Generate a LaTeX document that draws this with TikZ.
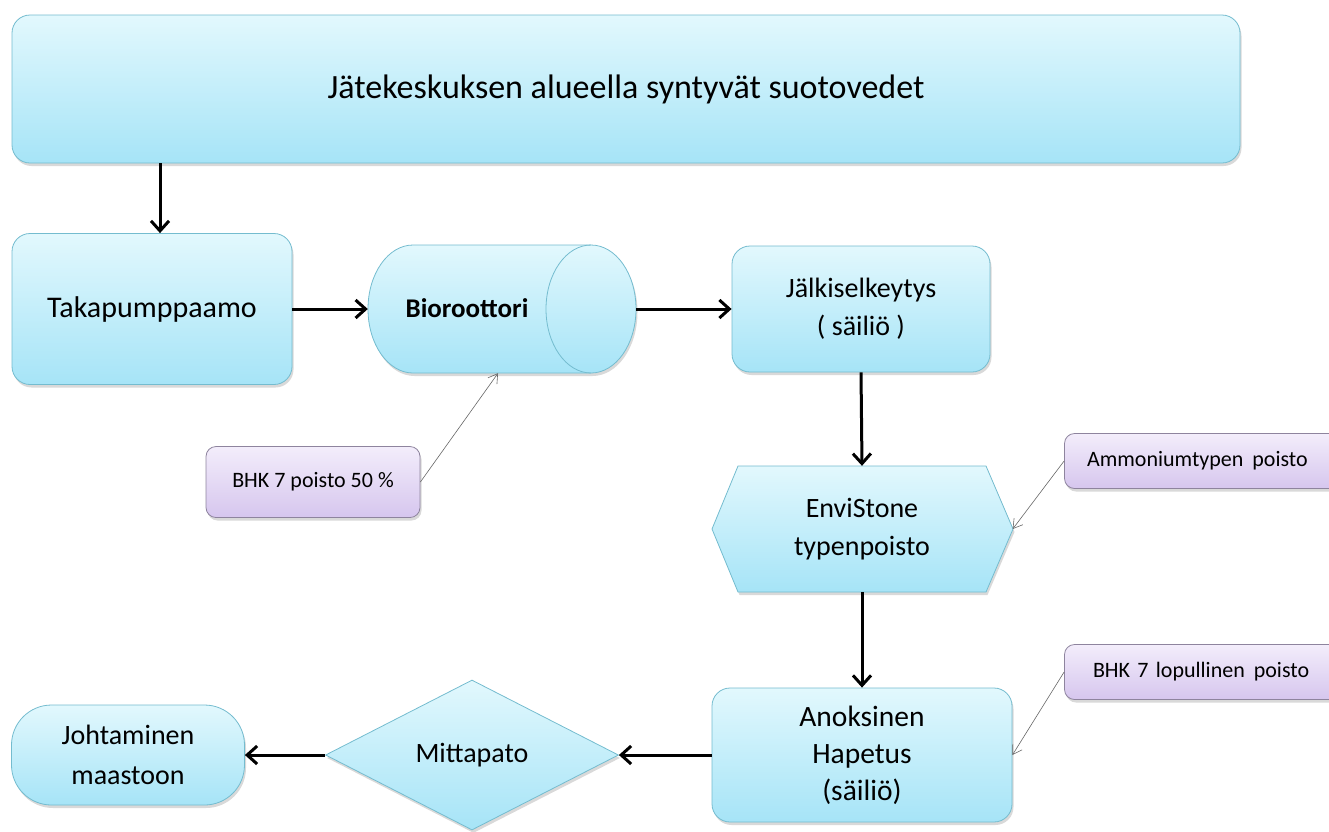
\documentclass[tikz,border=0pt]{standalone}
\usepackage{fontspec}
\setmainfont{Carlito}
\usetikzlibrary{arrows.meta,shapes.geometric,shadows}
\definecolor{bt}{HTML}{E2F8FD}
\definecolor{bb}{HTML}{A6E4F7}
\definecolor{bd}{HTML}{74BCCF}
\definecolor{pt}{HTML}{F3EDFB}
\definecolor{pb}{HTML}{D6C6EE}
\definecolor{pd}{HTML}{8E849E}
\begin{document}
\begin{tikzpicture}[x=1pt,y=-1pt,
  shad/.style={drop shadow={opacity=0.3,shadow xshift=1.5pt,shadow yshift=-3pt}},
  blue/.style={draw=bd, line width=0.8pt, top color=bt, bottom color=bb, shad},
  box/.style={blue, rounded corners=18pt, font=\fontsize{28}{36}\selectfont, align=center, inner sep=0pt},
  purp/.style={draw=pd, line width=0.8pt, top color=pt, bottom color=pb, shad, rounded corners=10pt, font=\fontsize{22}{26}\selectfont, inner sep=0pt},
  txt/.style={font=\fontsize{28}{38}\selectfont, align=center, inner sep=0pt},
  flow/.style={-{Straight Barb[length=10pt,width=18pt,line width=3pt]}, line width=3pt},
  thin/.style={-{Straight Barb[length=9pt,width=11pt]}, line width=0.6pt, draw=black!60}]
\useasboundingbox (0,0) rectangle (1329,831);
% top box
\node[box, minimum width=1228pt, minimum height=148pt, font=\fontsize{34}{40}\selectfont] (src) at (626,89) {Jätekeskuksen alueella syntyvät suotovedet};
\node[box, minimum width=280pt, minimum height=151pt, font=\fontsize{30}{36}\selectfont] (taka) at (152,309) {Takapumppaamo};
% bioreactor cylinder
\node[minimum width=268pt, minimum height=128pt, inner sep=0pt] (bio) at (502,309) {};
\path[blue] (413,245) -- (591,245) arc[start angle=90,end angle=-90,x radius=45pt,y radius=64pt]
  -- (413,373) arc[start angle=270,end angle=90,x radius=45pt,y radius=64pt] -- cycle;
\draw[bd, line width=0.8pt] (591,245) arc[start angle=90,end angle=270,x radius=45pt,y radius=64pt];
\node[txt, font=\fontsize{27}{32}\selectfont\bfseries] (bioL) at (467,308) {Bioroottori};
\node[box, minimum width=258pt, minimum height=126pt, font=\fontsize{28}{38}\selectfont] (jalk) at (861,309) {Jälkiselkeytys\\( säiliö )};
% hexagon
\path[blue] (712,529) -- (738,466) -- (986,466) -- (1013,529) -- (986,592) -- (738,592) -- cycle;
\node[txt, minimum width=301pt, minimum height=126pt] (hex) at (862,529) {EnviStone\\typenpoisto};
\node[box, minimum width=300pt, minimum height=134pt, font=\fontsize{29.5}{37}\selectfont] (anox) at (862,755) {Anoksinen\\Hapetus\\(säiliö)};
\node[blue, diamond, aspect=2, minimum width=293pt, minimum height=150pt, inner sep=0pt, font=\fontsize{28}{34}\selectfont] (mitta) at (472,755) {Mittapato};
\node[box, rounded corners=40pt, minimum width=233pt, minimum height=100pt, font=\fontsize{28}{40}\selectfont] (joht) at (128,755) {Johtaminen\\maastoon};
% purple notes
\node[purp, minimum width=214pt, minimum height=71pt] (bhk1) at (313,482) {BHK 7 poisto 50 \%};
\node[purp, minimum width=275pt, minimum height=55pt, text width=262pt, align=left] (amm) at (1202,461) {\hspace{16pt}Ammoniumtypen\hspace{9pt}poisto};
\node[purp, minimum width=275pt, minimum height=55pt, text width=262pt, align=left] (bhk2) at (1202,672) {\hspace{22pt}BHK 7 lopullinen\hspace{9pt}poisto};
% connectors
\coordinate (a1) at ([xshift=8pt]taka.north);
\draw[flow] (a1 |- src.south) -- (a1);
\draw[flow] (taka.east) -- (bio.west);
\draw[flow] (bio.east) -- (jalk.west);
\draw[flow] (jalk.south) -- (hex.north);
\draw[flow] (hex.south) -- (anox.north);
\draw[flow] (anox.west) -- (mitta.east);
\draw[flow] (mitta.west) -- (joht.east);
\draw[thin] (bhk1.east) -- ([xshift=-4pt]bio.south);
\draw[thin] (amm.west) -- (hex.east);
\draw[thin] (bhk2.west) -- (anox.east);
\end{tikzpicture}
\end{document}
